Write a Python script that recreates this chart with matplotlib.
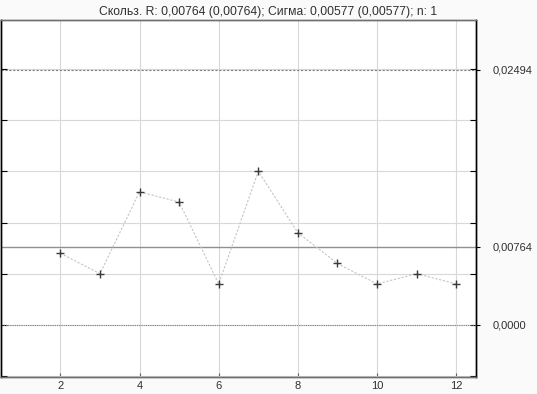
import numpy as np
import matplotlib.pyplot as plt
from matplotlib.ticker import MultipleLocator

plt.rcParams['font.family'] = ['Liberation Sans', 'DejaVu Sans']

# moving range values, samples 2..12
samples = [2, 3, 4, 5, 6, 7, 8, 9, 10, 11, 12]
mr = [0.007, 0.005, 0.013, 0.012, 0.004, 0.015, 0.009, 0.006, 0.004, 0.005, 0.004]
ucl = 0.02494
cl = 0.00764
lcl = 0.0
limit_labels = ['0,0000', '0,00764', '0,02494']
xticks = [2, 4, 6, 8, 10, 12]

bg = '#fafafa'
fig = plt.figure(figsize=(5.37, 3.94), dpi=100, facecolor=bg)
ax = fig.add_axes([1 / 537, 17 / 394, 475 / 537, 357 / 394])
ax.set_facecolor('white')

ax.set_xlim(0.5, 12.5)
ax.set_ylim(-0.0051, 0.0298)
ax.xaxis.set_major_locator(MultipleLocator(2))
ax.yaxis.set_major_locator(MultipleLocator(0.005))
ax.grid(True, color='#d8d8d8', linewidth=0.8)
ax.set_axisbelow(True)

ax.axhline(ucl, color='#808080', linestyle=(0, (2, 1.5)), linewidth=0.8)
ax.axhline(cl, color='#909090', linestyle='-', linewidth=1.0)
ax.axhline(lcl, color='#808080', linestyle=(0, (1, 1)), linewidth=0.8)

ax.plot(samples, mr, color='#c4c4c4', linestyle=(0, (2, 1.5)), linewidth=0.8,
        marker='+', markersize=6, markeredgecolor='#3a3a3a', markeredgewidth=1.0)

ax.set_xticks(xticks)
ax.set_xticklabels([str(t) for t in xticks], fontsize=8, color='#303030')
ax.tick_params(axis='x', direction='in', length=3, color='#606060', pad=3)

ax2 = ax.twinx()
ax2.set_ylim(ax.get_ylim())
ax2.set_yticks([lcl, cl, ucl])
ax2.set_yticklabels(limit_labels, fontsize=8, color='#303030')
ax2.tick_params(axis='y', direction='out', length=3, pad=9)

# twinx moves the main ticks left, so set them after it
ax.tick_params(axis='y', left=True, right=True, labelleft=False, labelright=False,
               direction='in', length=4)

for a in (ax, ax2):
    a.spines['left'].set_color('black')
    a.spines['right'].set_color('black')
    a.spines['top'].set_color('#707070')
    a.spines['bottom'].set_color('#707070')
    for s in a.spines.values():
        s.set_linewidth(1.0)

fig.text(0.5, 0.985, 'Скольз. R: 0,00764 (0,00764); Сигма: 0,00577 (0,00577); n: 1',
         ha='center', va='top', fontsize=8.7, color='#303030')

fig.savefig('out.png', dpi=100, facecolor=bg)
